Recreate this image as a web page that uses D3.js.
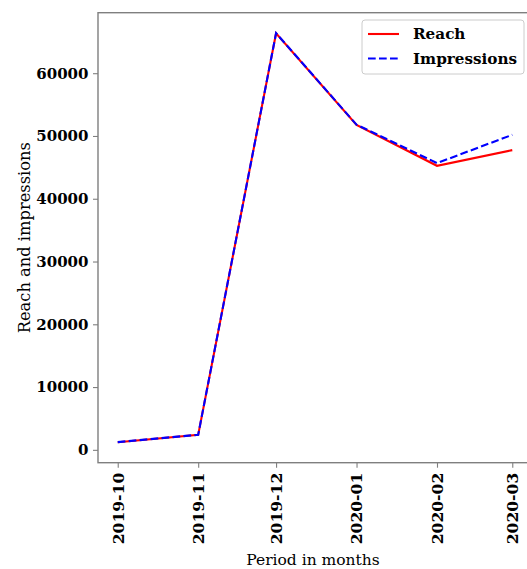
<!DOCTYPE html>
<html>
<head>
<meta charset="utf-8">
<script src="https://cdn.jsdelivr.net/npm/d3@7"></script>
<style>
  html, body { margin: 0; padding: 0; background: #fff; }
  svg { display: block; }
</style>
</head>
<body>
<svg id="chart" width="527" height="569"></svg>
<script>
// Monthly reach and impressions
const months = ["2019-10", "2019-11", "2019-12", "2020-01", "2020-02", "2020-03"];
const reach = [1210, 2390, 66350, 51750, 45250, 47750];
const impressions = [1230, 2400, 66380, 51800, 45680, 50180];
const yTicks = [0, 10000, 20000, 30000, 40000, 50000, 60000];
const seriesNames = ["Reach", "Impressions"];

const svg = d3.select("#chart");
const plot = { left: 98, top: 12.7, right: 532, bottom: 462.7 };

const parse = d3.timeParse("%Y-%m");
const dates = months.map(parse);

// 5% padding on both axes
const t0 = +dates[0], t1 = +dates[dates.length - 1];
const tpad = (t1 - t0) * 0.05;
const x = d3.scaleTime()
  .domain([new Date(t0 - tpad), new Date(t1 + tpad)])
  .range([plot.left, plot.right]);

const allVals = reach.concat(impressions);
const vmin = d3.min(allVals), vmax = d3.max(allVals);
const vpad = (vmax - vmin) * 0.05;
const y = d3.scaleLinear()
  .domain([vmin - vpad, vmax + vpad])
  .range([plot.bottom, plot.top]);

const spineColor = "#7f7f7f";
const serif = "'DejaVu Serif', serif";

// Frame
svg.append("rect")
  .attr("x", plot.left).attr("y", plot.top)
  .attr("width", plot.right - plot.left).attr("height", plot.bottom - plot.top)
  .attr("fill", "none").attr("stroke", spineColor).attr("stroke-width", 1.4);

// Y axis
const yAxis = svg.append("g")
  .attr("transform", `translate(${plot.left},0)`)
  .call(d3.axisLeft(y).tickValues(yTicks).tickFormat(d3.format("d")).tickSize(5).tickPadding(4.5));
yAxis.select(".domain").remove();
yAxis.selectAll(".tick line").attr("stroke", spineColor).attr("stroke-width", 1.1);
yAxis.selectAll(".tick text")
  .attr("fill", "#000")
  .style("font-family", serif).style("font-weight", "bold").style("font-size", "15px");

// X axis with vertical labels
const xAxis = svg.append("g")
  .attr("transform", `translate(0,${plot.bottom})`)
  .call(d3.axisBottom(x).tickValues(dates).tickFormat(d3.timeFormat("%Y-%m")).tickSize(5));
xAxis.select(".domain").remove();
xAxis.selectAll(".tick line").attr("stroke", spineColor).attr("stroke-width", 1.1);
xAxis.selectAll(".tick text")
  .attr("fill", "#000")
  .attr("transform", "rotate(-90)")
  .attr("x", -10).attr("y", 0).attr("dy", "0.35em")
  .attr("text-anchor", "end")
  .style("font-family", serif).style("font-weight", "bold").style("font-size", "15.6px");

// Axis titles
svg.append("text")
  .attr("x", (plot.left + plot.right) / 2 - 2).attr("y", 564.5)
  .attr("text-anchor", "middle")
  .style("font-family", serif).style("font-size", "15.5px")
  .text("Period in months");

svg.append("text")
  .attr("transform", `translate(29.5,${(plot.top + plot.bottom) / 2}) rotate(-90)`)
  .attr("text-anchor", "middle")
  .style("font-family", serif).style("font-size", "16.3px")
  .text("Reach and impressions");

// Lines
const line = d3.line().x((d, i) => x(dates[i])).y(d => y(d));
svg.append("clipPath").attr("id", "plotclip")
  .append("rect").attr("x", plot.left).attr("y", plot.top)
  .attr("width", plot.right - plot.left).attr("height", plot.bottom - plot.top);

svg.append("path").datum(reach)
  .attr("d", line).attr("fill", "none")
  .attr("stroke", "#ff0000").attr("stroke-width", 2.1)
  .attr("clip-path", "url(#plotclip)");

svg.append("path").datum(impressions)
  .attr("d", line).attr("fill", "none")
  .attr("stroke", "#0000ff").attr("stroke-width", 2.1)
  .attr("stroke-dasharray", "7.7,3.3")
  .attr("clip-path", "url(#plotclip)");

// Legend
const legend = svg.append("g");
legend.append("rect")
  .attr("x", 362).attr("y", 20).attr("width", 162).attr("height", 54)
  .attr("rx", 3).attr("fill", "#fff").attr("fill-opacity", 0.8)
  .attr("stroke", "#cccccc").attr("stroke-width", 1);
const styles = [
  { color: "#ff0000", dash: null },
  { color: "#0000ff", dash: "7.7,3.3" }
];
seriesNames.forEach((name, i) => {
  const ly = 34 + i * 24.5;
  legend.append("line")
    .attr("x1", 368).attr("x2", 399).attr("y1", ly).attr("y2", ly)
    .attr("stroke", styles[i].color).attr("stroke-width", 2.1)
    .attr("stroke-dasharray", styles[i].dash);
  legend.append("text")
    .attr("x", 413).attr("y", ly).attr("dy", "0.35em")
    .style("font-family", serif).style("font-weight", "bold").style("font-size", "15.2px")
    .text(name);
});
</script>
</body>
</html>
